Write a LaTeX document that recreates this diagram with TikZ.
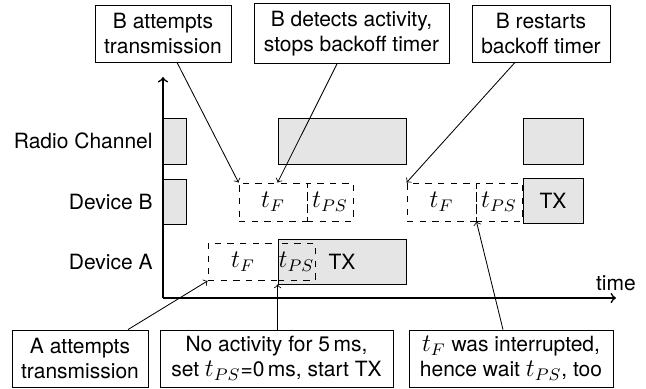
\documentclass[tikz,border=0pt]{standalone}
\usepackage{fontspec}
\setmainfont{TeX Gyre Heros}
\usetikzlibrary{positioning}
\DeclareMathSizes{10}{12}{8.4}{6}

\newcommand{\pxl}{0.476pt}

\tikzset{
  busy/.style={draw, fill=gray!20, minimum height=45*\pxl, inner sep=0pt},
  slot/.style={draw, dashed, minimum height=38*\pxl, inner sep=0pt},
  note/.style={draw, fill=white, align=center, minimum height=57*\pxl, inner sep=0pt},
  row/.style={anchor=east},
}

\begin{document}
\begin{tikzpicture}[x=\pxl, y=-\pxl]
    \useasboundingbox (0,0) rectangle (646,389);

    % Zeilen
    \node[row] (rc) at (160,141) {Radio Channel};
    \node[row] (devb) at (160,202) {Device B};
    \node[row] (deva) at (160,262) {Device A};

    % Radio Channel
    \node[busy, minimum width=23*\pxl, minimum height=46*\pxl] (rc1) at (174.5,141) {};
    \node[busy, minimum width=128*\pxl, minimum height=46*\pxl] (rc2) at (342,141) {};
    \node[busy, minimum width=60*\pxl, minimum height=46*\pxl] (rc3) at (553,141) {};

    % Device B
    \node[busy, minimum width=23*\pxl] (db1) at (174.5,201.5) {};
    \node[slot, minimum width=68*\pxl] (dbtf1) at (273,202) {$t_F$};
    \node[slot, minimum width=46*\pxl] (dbps1) at (330,202) {$t_{PS}$};
    \node[slot, minimum width=69*\pxl] (dbtf2) at (441.5,202) {$t_F$};
    \node[slot, minimum width=46*\pxl] (dbps2) at (499,202) {$t_{PS}$};
    \node[busy, minimum width=60*\pxl] (dbtx) at (553,200.5) {TX};

    % Device A
    \node[slot, minimum width=70*\pxl, minimum height=37*\pxl] (datf) at (243,262) {$t_F$};
    \node[busy, minimum width=128*\pxl] (datx) at (342,261.5) {TX};
    \node[slot, minimum width=37*\pxl, minimum height=37*\pxl] (daps) at (296.5,262) {$t_{PS}$};

    % Achsen
    \coordinate (o) at (163,298);
    \coordinate (ytop) at (163,77);
    \coordinate (xend) at (616,298);
    \draw[thick, ->] (o) -- (ytop);
    \draw[thick, ->] (o) -- (xend);
    \node (tlbl) at (616,283) {time};

    % Erklaerungen oben
    \node[note, minimum width=136*\pxl] (top1) at (163,33.5) {B attempts\\transmission};
    \node[note, minimum width=195*\pxl, minimum height=60*\pxl] (top2) at (351.5,33.5) {B detects activity,\\stops backoff timer};
    \node[note, minimum width=138*\pxl] (top3) at (541,33.5) {B restarts\\backoff timer};

    % Erklaerungen unten
    \node[note, minimum width=136*\pxl] (bot1) at (80,358.5) {A attempts\\transmission};
    \node[note, minimum width=233*\pxl] (bot2) at (276.5,358.5) {No activity for 5\,ms,\\set $t_{PS}$=0\,ms, start TX};
    \node[note, minimum width=204*\pxl] (bot3) at (511,358.5) {$t_F$ was interrupted,\\hence wait $t_{PS}$, too};

    % Pfeile
    \draw[->] ([xshift=14*\pxl]top1.south) -- (dbtf1.north west);
    \draw[->] ([xshift=-14.5*\pxl]top2.south) -- (datx.west |- dbtf1.north);
    \draw[->] ([xshift=-26*\pxl]top3.south) -- (dbtf2.north west);
    \draw[->] ([xshift=48*\pxl]bot1.north) -- (datf.south west);
    \draw[->] (datx.south west |- bot2.north) -- (datx.south west);
    \draw[->] ([xshift=-8*\pxl]bot3.north) -- (dbtf2.south east);
  \end{tikzpicture}
\end{document}
